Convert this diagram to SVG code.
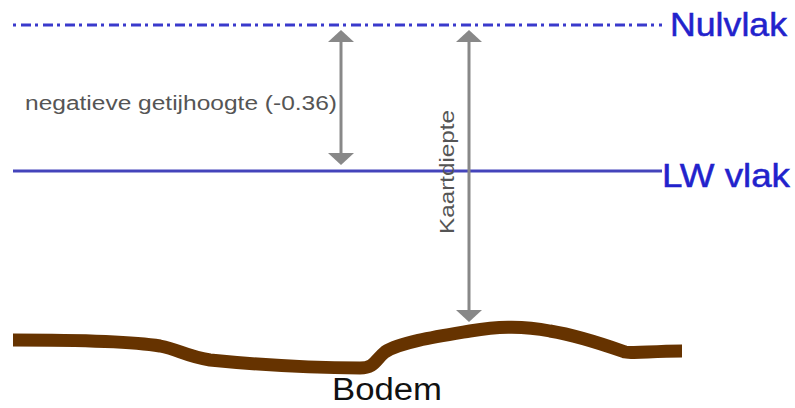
<svg xmlns="http://www.w3.org/2000/svg" width="795" height="408" viewBox="0 0 795 408">
<style>
.lbl{font-family:"Liberation Sans",Arial,sans-serif}
.blue{fill:#2222cc;stroke:#2222cc;stroke-width:0.5}
.gray{fill:#555}
.arr{stroke:#888;stroke-width:3;fill:none}
.head{fill:#888}
</style>
<rect width="795" height="408" fill="#fff"/>
<g id="nulvlak">
<line x1="13" y1="25" x2="662" y2="25" stroke="#3a3acc" stroke-width="3" stroke-dasharray="3 5 10 4"/>
<text class="lbl blue" x="670" y="36" font-size="33" textLength="117" lengthAdjust="spacingAndGlyphs">Nulvlak</text>
</g>
<g id="lwvlak">
<line x1="13" y1="171" x2="662" y2="171" stroke="#4444bb" stroke-width="3"/>
<text class="lbl blue" x="662" y="187" font-size="33" textLength="128" lengthAdjust="spacingAndGlyphs">LW vlak</text>
</g>
<g id="bodem">
<path d="M13 340 C80 340 130 341 160 346 C180 350 185 356 210 360 C260 365 320 368 360 368 C375 368 375 360 385 352 C400 342 440 336 470 331 C495 327 520 325 550 331 C580 336 605 345 625 352 C635 354 650 351 682 351" fill="none" stroke="#663300" stroke-width="13"/>
<text class="lbl" x="332" y="400" font-size="31" fill="#111" textLength="110" lengthAdjust="spacingAndGlyphs">Bodem</text>
</g>
<g id="getij">
<text class="lbl gray" x="25" y="110" font-size="20" textLength="312" lengthAdjust="spacingAndGlyphs">negatieve getijhoogte (-0.36)</text>
</g>
<g id="kaartdiepte">
<text class="lbl gray" transform="translate(454,234) rotate(-90)" font-size="21" textLength="124" lengthAdjust="spacingAndGlyphs">Kaartdiepte</text>
</g>
<g id="connectors">
<line class="arr" x1="341" y1="40" x2="341" y2="155"/>
<polygon class="head" points="341,30 328,42 354,42"/>
<polygon class="head" points="341,165 328,153 354,153"/>
<line class="arr" x1="469" y1="40" x2="469" y2="312"/>
<polygon class="head" points="469,30 456,42 482,42"/>
<polygon class="head" points="469,322 456,310 482,310"/>
</g>
</svg>
